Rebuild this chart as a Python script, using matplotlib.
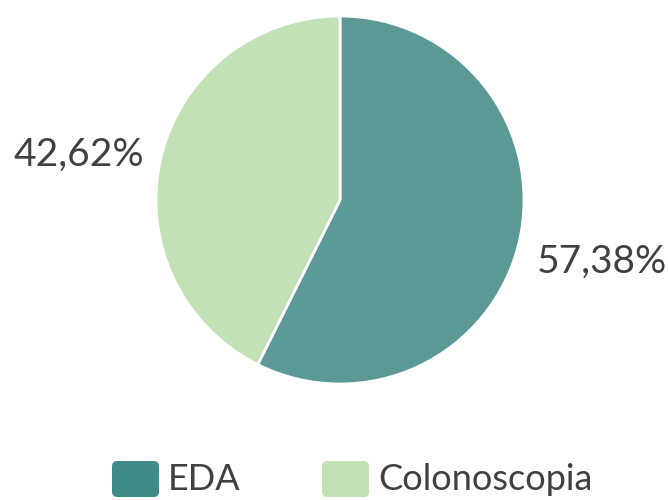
import matplotlib
matplotlib.use("Agg")
import matplotlib.pyplot as plt
from matplotlib.patches import FancyBboxPatch

categories = ["EDA", "Colonoscopia"]
values = [57.38, 42.62]
colors = ["#5b9996", "#c3e1b7"]
legend_colors = ["#3f8b87", "#c3e1b7"]

plt.rcParams['font.family'] = ['Lato', 'DejaVu Sans']

W, H = 668, 500
fig = plt.figure(figsize=(W / 100, H / 100), dpi=100)
R = 184
cx, cy = 340, 200
ax = fig.add_axes([(cx - R) / W, (H - cy - R) / H, 2 * R / W, 2 * R / H])

wedges, texts, autotexts = ax.pie(
    values, colors=colors, startangle=90, counterclock=False, radius=1,
    autopct=lambda p: f"{p:.2f}%".replace(".", ","), pctdistance=1.46,
    wedgeprops=dict(edgecolor="white", linewidth=2),
    textprops=dict(fontsize=28, color="#404040"))
ax.set_xlim(-1, 1)
ax.set_ylim(-1, 1)
ax.axis("off")
for t in autotexts:
    t.set_clip_on(False)
autotexts[1].set_y(autotexts[1].get_position()[1] - 0.09)

# legend
patch_x = [112, 322]
for i, (name, col) in enumerate(zip(categories, legend_colors)):
    x0 = patch_x[i]
    p = FancyBboxPatch(((x0) / W, (H - 497) / H), 47 / W, 36 / H,
                       boxstyle="round,pad=0,rounding_size=0.008",
                       transform=fig.transFigure, facecolor=col,
                       edgecolor="none", mutation_aspect=W / H)
    fig.patches.append(p)
    fig.text((x0 + 56) / W, (H - 479) / H, name, fontsize=26,
             color="#404040", va="center", ha="left")

fig.savefig("out.png", dpi=100, facecolor="white")
